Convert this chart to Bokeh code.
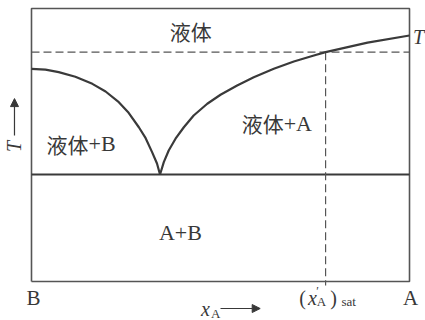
from bokeh.plotting import figure
from bokeh.models import Range1d, Arrow, NormalHead, ColumnDataSource
from bokeh.core.properties import value
from bokeh.embed import file_html
from bokeh.resources import INLINE

# Liquidus of B (left branch) : mole fraction of A vs reduced temperature
x_left = [0.000, 0.037, 0.072, 0.116, 0.161, 0.196, 0.231, 0.257, 0.284,
          0.302, 0.319, 0.332, 0.340]
T_left = [0.779, 0.776, 0.767, 0.750, 0.724, 0.696, 0.657, 0.618, 0.565,
          0.525, 0.474, 0.432, 0.392]

# Liquidus of A (right branch)
x_right = [0.340, 0.350, 0.363, 0.381, 0.403, 0.429, 0.465, 0.500, 0.544,
           0.588, 0.641, 0.694, 0.747, 0.778, 0.889, 1.000]
T_right = [0.392, 0.437, 0.480, 0.523, 0.565, 0.608, 0.651, 0.684, 0.718,
           0.748, 0.779, 0.806, 0.828, 0.840, 0.875, 0.901]

T_eutectic = 0.392
T_work = 0.840          # working temperature T
x_sat = 0.778           # saturation composition at T

# phase region labels: Chinese part (right-aligned) + Latin part (left-aligned)
region_cjk = ["液体", "液体", "液体"]
region_cjk_x = [0.477, 0.151, 0.667]
region_cjk_T = [0.919, 0.505, 0.579]
region_lat = ["+B", "+A", "A+B"]
region_lat_x = [0.151, 0.667, 0.394]
region_lat_T = [0.505, 0.579, 0.179]

SERIF = value("Liberation Serif")
CJK = value("Noto Sans CJK SC")
INK = "#3a3a3a"
TXT = "#383838"

p = figure(width=425, height=320, output_backend="svg", toolbar_location=None,
           x_axis_type=None, y_axis_type=None, min_border=0,
           x_range=Range1d(-0.082, 1.0423), y_range=Range1d(-0.1429, 1.0293))
p.outline_line_color = None
p.grid.visible = False
p.background_fill_color = "white"
p.border_fill_color = "white"

# frame of the diagram
p.line([0, 1, 1, 0, 0], [0, 0, 1, 1, 0], line_color="#555555", line_width=1.6)

# eutectic line
p.line([0, 1], [T_eutectic, T_eutectic], line_color=INK, line_width=2)

# dashed guides at T and at the saturation composition
p.line([0, 1], [T_work, T_work], line_color="#555555", line_width=1.2,
       line_dash="8 4")
p.line([x_sat, x_sat], [T_work, -0.015], line_color="#555555", line_width=1.2,
       line_dash="8 4")

# liquidus curves
p.line(x_left, T_left, line_color=INK, line_width=2.2)
p.line(x_right, T_right, line_color=INK, line_width=2.2)

# region labels
cjk_src = ColumnDataSource(dict(x=region_cjk_x, y=region_cjk_T, t=region_cjk))
p.text("x", "y", text="t", source=cjk_src, text_font=CJK, text_font_size="21px",
       text_color=TXT, text_align="right", text_baseline="middle")
lat_src = ColumnDataSource(dict(x=region_lat_x, y=region_lat_T, t=region_lat))
lat_align = ["left", "left", "center"]
lat_src.data["a"] = lat_align
p.text("x", "y", text="t", source=lat_src, text_font=SERIF, text_font_size="22px",
       text_color=TXT, text_align="a", text_baseline="middle")


def label(x, y, t, size="20px", style="normal", align="center", font=SERIF):
    p.text([x], [y], text=[t], text_font=font, text_font_size=size,
           text_font_style=style, text_color=TXT, text_align=align,
           text_baseline="middle")


# temperature mark at the right edge
label(1.024, 0.894, "T", style="italic")

# composition end members
label(0.005, -0.062, "B", size="21px")
label(1.003, -0.062, "A", size="21px")

# (x'A)sat under the dashed vertical line
label(0.717, -0.062, "(")
label(0.743, -0.060, "x", style="italic")
label(0.757, -0.035, "′", size="12px")
label(0.767, -0.073, "A", size="13px")
label(0.799, -0.062, ")")
label(0.839, -0.075, "sat", size="13px")

# composition axis label with arrow
label(0.460, -0.099, "x", style="italic")
label(0.487, -0.118, "A", size="13px")
p.add_layout(Arrow(end=NormalHead(size=8, fill_color=TXT, line_color=TXT),
                   x_start=0.500, y_start=-0.099, x_end=0.605, y_end=-0.099,
                   line_color=TXT, line_width=1.2))

# temperature axis label with arrow
p.text([-0.045], [0.495], text=["T"], text_font=SERIF, text_font_size="20px",
       text_font_style="italic", text_color=TXT, text_align="center",
       text_baseline="middle", angle=1.5708)
p.add_layout(Arrow(end=NormalHead(size=8, fill_color=TXT, line_color=TXT),
                   x_start=-0.045, y_start=0.535, x_end=-0.045, y_end=0.670,
                   line_color=TXT, line_width=1.2))

open("out.html", "w").write(file_html(p, INLINE))
